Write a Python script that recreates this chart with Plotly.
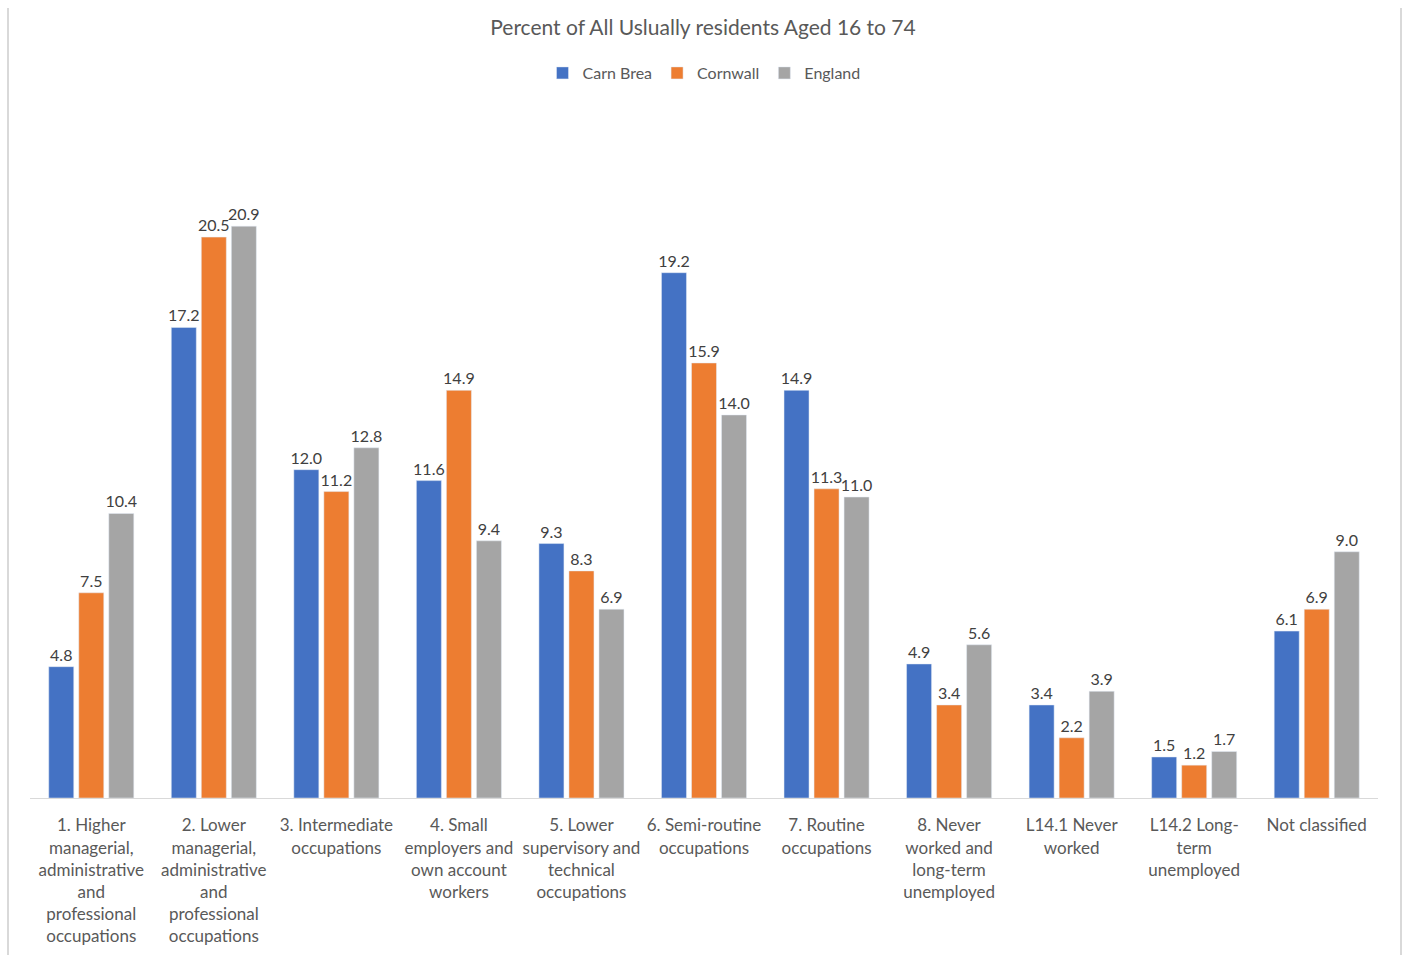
import plotly.graph_objects as go

categories = [
    "1. Higher<br>managerial,<br>administrative<br>and<br>professional<br>occupations",
    "2. Lower<br>managerial,<br>administrative<br>and<br>professional<br>occupations",
    "3. Intermediate<br>occupations",
    "4. Small<br>employers and<br>own account<br>workers",
    "5. Lower<br>supervisory and<br>technical<br>occupations",
    "6. Semi-routine<br>occupations",
    "7. Routine<br>occupations",
    "8. Never<br>worked and<br>long-term<br>unemployed",
    "L14.1 Never<br>worked",
    "L14.2 Long-<br>term<br>unemployed",
    "Not classified",
]
carn_brea = [4.8, 17.2, 12.0, 11.6, 9.3, 19.2, 14.9, 4.9, 3.4, 1.5, 6.1]
cornwall = [7.5, 20.5, 11.2, 14.9, 8.3, 15.9, 11.3, 3.4, 2.2, 1.2, 6.9]
england = [10.4, 20.9, 12.8, 9.4, 6.9, 14.0, 11.0, 5.6, 3.9, 1.7, 9.0]

series = [("Carn Brea", carn_brea, "#4472C4"),
          ("Cornwall", cornwall, "#ED7D31"),
          ("England", england, "#A5A5A5")]

fig = go.Figure()
for name, vals, col in series:
    fig.add_trace(go.Bar(
        x=categories, y=vals, name=name, marker_color=col,
        text=[f"{v:.1f}" for v in vals], textposition="outside",
        constraintext="none",
        textfont=dict(size=16, color="#404040"), cliponaxis=False,
    ))

L, R, T, B = 30, 1406 - 1378, 114, 955 - 798
W = 1406 - L - R
H = 955 - T - B

fig.update_layout(
    width=1406, height=955,
    margin=dict(l=L, r=R, t=T, b=B, autoexpand=False),
    paper_bgcolor="white", plot_bgcolor="white",
    font=dict(family="Lato, Open Sans, sans-serif", color="#595959"),
    title=dict(text="Percent of All Uslually residents Aged 16 to 74",
               x=0.5, xanchor="center", y=1 - 28 / 955, yanchor="middle",
               font=dict(size=21, color="#595959")),
    legend=dict(orientation="h", x=0.5, xanchor="center",
                y=(798 - 73) / H, yref="paper", yanchor="middle",
                font=dict(size=16, color="#595959"), itemwidth=30),
    barmode="group", bargap=0.265, bargroupgap=0.167,
    xaxis=dict(showline=True, linecolor="#d9d9d9", linewidth=1,
               tickfont=dict(size=17, color="#595959"), ticks="",
               ticklabelstandoff=12, showgrid=False, automargin=False),
    yaxis=dict(range=[0, 25], visible=False, showgrid=False, automargin=False),
    showlegend=True,
)

# outer chart border lines (left and right)
for xp in [(8 - L) / W, (1401 - L) / W]:
    fig.add_shape(type="line", xref="paper", yref="paper",
                  x0=xp, x1=xp, y0=(798 - 955) / H, y1=(798 - 8) / H,
                  line=dict(color="#d9d9d9", width=2))

fig.write_html("out.html")
